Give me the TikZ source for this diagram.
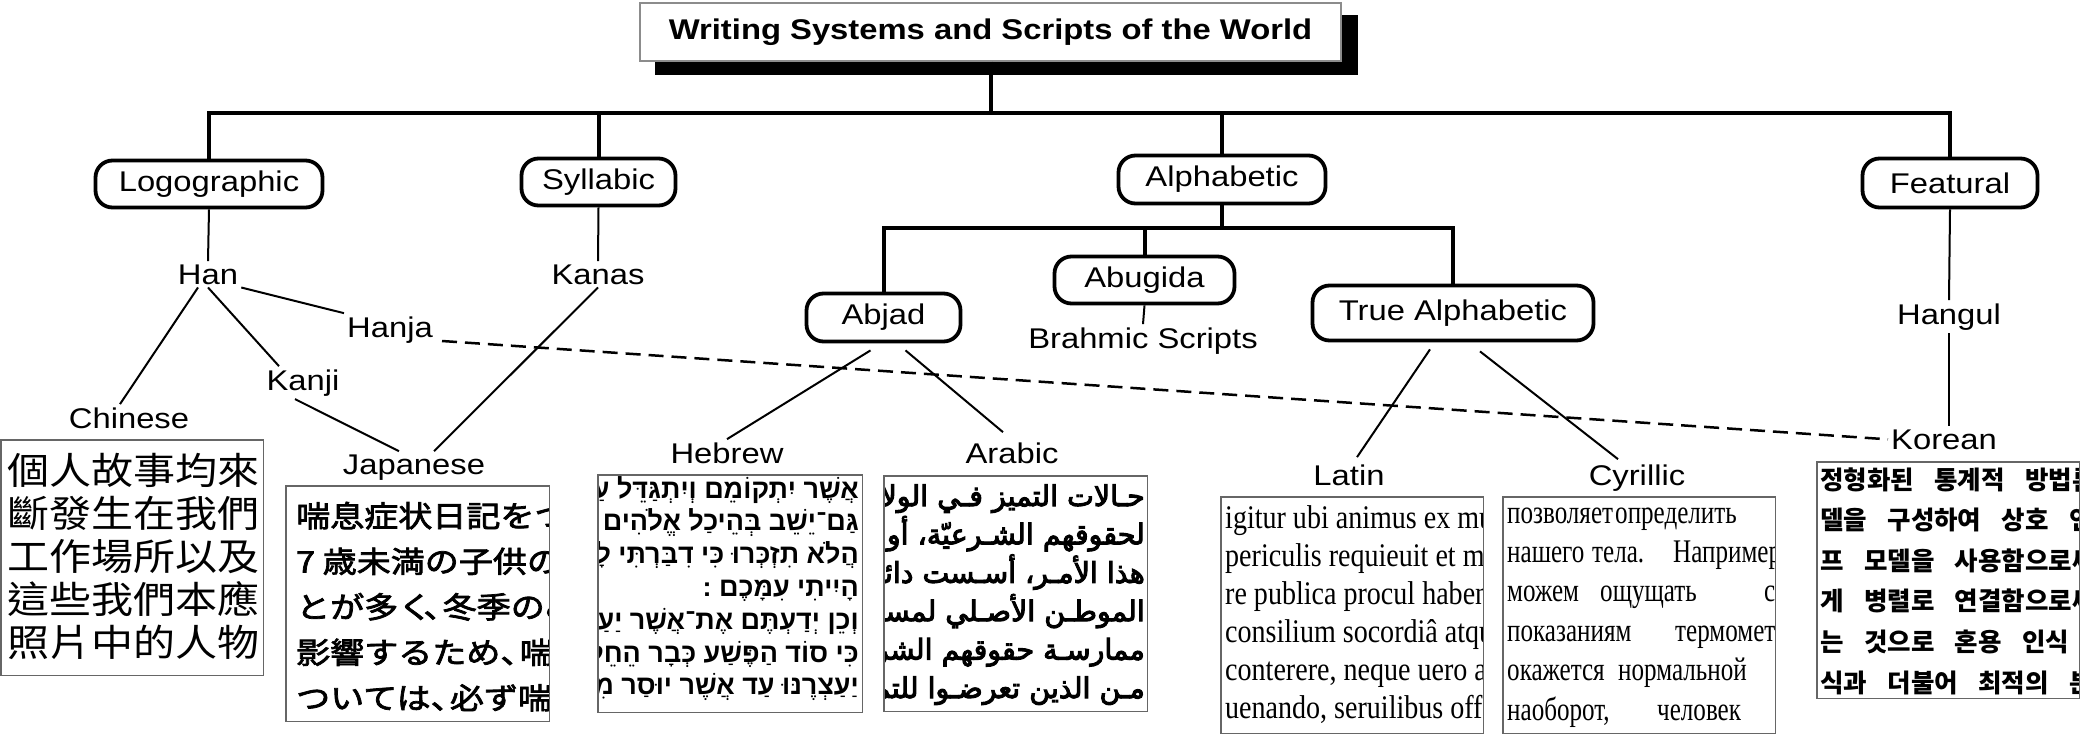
\documentclass[tikz,border=0pt]{standalone}
\usepackage{fontspec}
\TeXXeTstate=1
\usetikzlibrary{backgrounds,calc}
\setmainfont{Liberation Sans}
\newfontfamily\labfont{Liberation Sans}[FakeStretch=1.15]
\newfontfamily\latfont{Liberation Serif}[FakeStretch=0.85]
\newfontfamily\cyfont{Liberation Serif}[FakeStretch=0.76]
\newfontfamily\zhfont{Noto Sans CJK TC}[FakeStretch=1.13]
\newfontfamily\jafont{Noto Sans CJK JP}[FakeStretch=1.15,FakeBold=2.5]
\newfontfamily\kofont{Noto Sans CJK KR}
\newfontfamily\hefont{Liberation Sans}[Script=Hebrew]
\newfontfamily\arfont{DejaVu Sans}[Script=Arabic,FakeBold=3.5]
\newcommand\ksp{\hspace{0.8em}}
\newcommand\jc{、\kern-0.5em}
\newcommand\labsize{\fontsize{28.5}{34}\selectfont}
\tikzset{
  lab/.style={font=\labfont\labsize, inner sep=3pt, anchor=base},
  cat/.style={draw, line width=3.8pt, rounded corners=17pt, fill=white, inner sep=0pt, font=\labfont\labsize},
  titlebox/.style={draw=black!45, line width=1.2pt, fill=white, inner sep=0pt, minimum width=701pt, minimum height=58pt, font=\labfont\bfseries\labsize},
  bus/.style={line width=4pt},
  conn/.style={line width=2pt},
  dashlink/.style={line width=2.5pt, dash pattern=on 15pt off 8pt},
  tbox/.style={draw=none, inner sep=0pt, anchor=north west},
  tboxline/.style={draw=black!60, line width=1.3pt},
  ln/.style={inner sep=0pt, anchor=base west},
  lnr/.style={inner sep=0pt, anchor=base east},
  zhtext/.style={font=\zhfont\fontsize{37.2}{40}\selectfont},
  jatext/.style={font=\jafont\fontsize{29.6}{34}\selectfont},
  hetext/.style={font=\hefont\bfseries\fontsize{27}{30}\selectfont},
  artext/.style={font=\arfont\fontsize{28.5}{32}\selectfont},
  latext/.style={font=\latfont\fontsize{33}{36}\selectfont},
  cytext/.style={font=\cyfont\fontsize{33}{36}\selectfont},
  kotext/.style={font=\kofont\bfseries\fontsize{25.5}{28}\selectfont},
}
\begin{document}
\begin{tikzpicture}[x=1pt,y=-1pt]
\useasboundingbox (0,0) rectangle (2080,736);

% ---------- title ----------
\node[titlebox] (title) at (990.5,32) {Writing Systems and Scripts of the World};
\begin{scope}[on background layer]
  \fill[black] ([xshift=16pt,yshift=-13pt]title.south west) rectangle ([xshift=16pt,yshift=-13pt]title.north east);
\end{scope}

% ---------- category boxes ----------
\node[cat, minimum width=227pt, minimum height=47pt] (logo) at (209,184) {Logographic};
\node[cat, minimum width=154pt, minimum height=47pt] (syl) at (598.5,182) {Syllabic};
\node[cat, minimum width=207pt, minimum height=48pt] (alpha) at (1222,179.5) {Alphabetic};
\node[cat, minimum width=175pt, minimum height=49pt] (feat) at (1950,183) {Featural};
\node[cat, minimum width=154pt, minimum height=48pt] (abjad) at (883.5,317.5) {Abjad};
\node[cat, minimum width=180pt, minimum height=47pt] (abug) at (1144.5,280) {Abugida};
\node[cat, minimum width=281pt, minimum height=55pt] (truealpha) at (1453,313) {True Alphabetic};

% ---------- tree buses ----------
\coordinate (busy) at (0,113);
\coordinate (suby) at (0,228);
\draw[bus] (logo.north) -- (logo.north |- busy) -- (feat.north |- busy) -- (feat.north);
\draw[bus] (title.south) -- (title.south |- busy);
\draw[bus] (syl.north) -- (syl.north |- busy);
\draw[bus] (alpha.north) -- (alpha.north |- busy);
\draw[bus] (alpha.south) -- (alpha.south |- suby);
\draw[bus] (abjad.north) -- (abjad.north |- suby) -- (truealpha.north |- suby) -- (truealpha.north);
\draw[bus] (abug.north) -- (abug.north |- suby);

% ---------- labels ----------
\node[lab] (han) at (208,284) {Han};
\node[lab] (kanas) at (598,284) {Kanas};
\node[lab] (hanja) at (390,337) {Hanja};
\node[lab] (kanji) at (303,390) {Kanji};
\node[lab] (chinese) at (129,428) {Chinese};
\node[lab] (japanese) at (414,474) {Japanese};
\node[lab] (hebrew) at (727,463) {Hebrew};
\node[lab] (arabic) at (1012,463) {Arabic};
\node[lab] (brahmic) at (1143,348) {Brahmic Scripts};
\node[lab] (latin) at (1349,485) {Latin};
\node[lab] (cyrillic) at (1637,485) {Cyrillic};
\node[lab] (hangul) at (1949,324) {Hangul};
\node[lab] (korean) at (1944,449) {Korean};

% ---------- connectors ----------
\draw[conn] (logo.south) -- (han.north);
\draw[conn] (syl.south) -- (kanas.north);
\draw[conn] ([xshift=-10pt]han.south) -- ([xshift=-9pt]chinese.north);
\draw[conn] (han.south) -- ([xshift=-24pt]kanji.north);
\draw[conn] (han.south east) -- (hanja.north west);
\draw[conn] ([xshift=-8pt]kanji.south) -- ([xshift=-15pt]japanese.north);
\draw[conn] (kanas.south) -- ([xshift=20pt]japanese.north);
\draw[conn] ([xshift=-13pt,yshift=-7pt]abjad.south) -- (hebrew.north);
\draw[conn] ([xshift=22pt,yshift=-7pt]abjad.south) -- ([xshift=-9pt,yshift=7pt]arabic.north);
\draw[conn] (abug.south) -- (brahmic.north);
\draw[conn] ([xshift=-23pt,yshift=-7pt]truealpha.south) -- ([xshift=8pt,yshift=4pt]latin.north);
\draw[conn] ([xshift=27pt,yshift=-9pt]truealpha.south) -- ([xshift=-19pt,yshift=2pt]cyrillic.north);
\draw[conn] (feat.south) -- (hangul.north);
\draw[conn] (hangul.south) -- (hangul.south |- korean.north);
\draw[dashlink] ([xshift=6pt,yshift=-4pt]hanja.base east) -- (korean.west);

% ---------- Chinese sample ----------
\node[tbox, minimum width=262pt, minimum height=235pt] (zhbox) at (1,440) {};
\begin{scope}
  \clip (zhbox.south west) rectangle (zhbox.north east);
  \foreach \t [count=\i from 0] in {個人故事均來,斷發生在我們,工作場所以及,這些我們本應,照片中的人物}
    \node[ln, zhtext] (zh\i) at (7,484+43*\i) {\t};
\end{scope}
\draw[tboxline] (zhbox.south west) rectangle (zhbox.north east);

% ---------- Japanese sample ----------
\node[tbox, minimum width=263pt, minimum height=235pt] (jabox) at (286,486) {};
\begin{scope}
  \clip (jabox.south west) rectangle (jabox.north east);
  \foreach \t [count=\i from 0] in {喘息症状日記をつけ,7 歳未満の子供の,とが多く\kern-0.3em\jc 冬季のみ,影響するため\jc 喘息,ついては\jc 必ず喘息}
    \node[ln, jatext] (ja\i) at (296,527+45.5*\i) {\t};
\end{scope}
\draw[tboxline] (jabox.south west) rectangle (jabox.north east);

% ---------- Hebrew sample ----------
\node[tbox, minimum width=264pt, minimum height=237pt] (hebox) at (598,475) {};
\begin{scope}
  \clip (hebox.south west) rectangle (hebox.north east);
  \foreach \t [count=\i from 0] in {אֲשֶׁר יִתְקוֹמֵם וְיִתְגַּדֵּל עַל,גַּם־יֵשֵׁב בְּהֵיכַל אֱלֹהִים,הֲלֹא תִזְכְּרוּ כִּי דִבַּרְתִּי לָכֶם,הָיִיתִי עִמָּכֶם :,וְכֵן יְדַעְתֶּם אֶת־אֲשֶׁר יַעַצְרֶנּוּ,כִּי סוֹד הַפֶּשַׁע כְּבָר הֵחֵל,יַעַצְרֶנּוּ עַד אֲשֶׁר יוּסַר מִתּוֹךְ}
    \node[lnr, hetext] (he\i) at (859,498+32.8*\i) {\beginR\t\endR};
\end{scope}
\draw[tboxline] (hebox.south west) rectangle (hebox.north east);

% ---------- Arabic sample ----------
\node[tbox, minimum width=263pt, minimum height=235pt] (arbox) at (884,476) {};
\begin{scope}
  \clip (arbox.south west) rectangle (arbox.north east);
  \foreach \t [count=\i from 0] in {حـالات التميز فـي الولايات,لحقوقهم الشـرعيّة، أو لخرق,هذا الأمـر، أسـست دائـرة,الموطـن الأصـلي لمسـاعدة,ممارسـة حقوقهم الشرعية,مـن الذين تعرضـوا للتمييز}
    \node[lnr, artext] (ar\i) at (1145,506+38.4*\i) {\beginR\t\endR};
\end{scope}
\draw[tboxline] (arbox.south west) rectangle (arbox.north east);

% ---------- Latin sample ----------
\node[tbox, minimum width=262pt, minimum height=236pt] (labox) at (1221,497) {};
\begin{scope}
  \clip (labox.south west) rectangle (labox.north east);
  \foreach \t [count=\i from 0] in {igitur ubi animus ex multis,periculis requieuit et mihi,re publica procul habendam,consilium socordiâ atque,{conterere, neque uero agrum},{uenando, seruilibus officiis}}
    \node[ln, latext] (la\i) at (1225,528+38*\i) {\t};
\end{scope}
\draw[tboxline] (labox.south west) rectangle (labox.north east);

% ---------- Cyrillic sample ----------
\node[tbox, minimum width=272pt, minimum height=236pt] (cybox) at (1503,497) {};
\begin{scope}
  \clip (cybox.south west) rectangle (cybox.north east);
  \node[ln, cytext] (cy0) at (1507,523) {\makebox[108pt][l]{позволяет}определить};
  \node[ln, cytext] (cy1) at (1507,562.4) {\makebox[85pt][l]{нашего}\makebox[81pt][l]{тела.}Например};
  \node[ln, cytext] (cy2) at (1507,601.8) {\makebox[93pt][l]{можем}\makebox[164pt][l]{ощущать}себя};
  \node[ln, cytext] (cy3) at (1507,641.2) {\makebox[168pt][l]{показаниям}термометра};
  \node[ln, cytext] (cy4) at (1507,680.6) {\makebox[111pt][l]{окажется}нормальной};
  \node[ln, cytext] (cy5) at (1507,720) {\makebox[150pt][l]{наоборот,}человек};
\end{scope}
\draw[tboxline] (cybox.south west) rectangle (cybox.north east);

% ---------- Korean sample ----------
\node[tbox, minimum width=262pt, minimum height=236pt] (kobox) at (1817,462) {};
\begin{scope}
  \clip (kobox.south west) rectangle (kobox.north east);
  \foreach \t [count=\i from 0] in {정형화된\ksp 통계적\ksp 방법론,델을\ksp 구성하여\ksp 상호\ksp 연결,프\ksp 모델을\ksp 사용함으로써,게\ksp 병렬로\ksp 연결함으로써,는\ksp 것으로\ksp 혼용\ksp 인식\ksp 결과,식과\ksp 더불어\ksp 최적의\ksp 분류}
    \node[ln, kotext] (ko\i) at (1820,489+40.6*\i) {\t};
\end{scope}
\draw[tboxline] (kobox.south west) rectangle (kobox.north east);
\end{tikzpicture}
\end{document}
